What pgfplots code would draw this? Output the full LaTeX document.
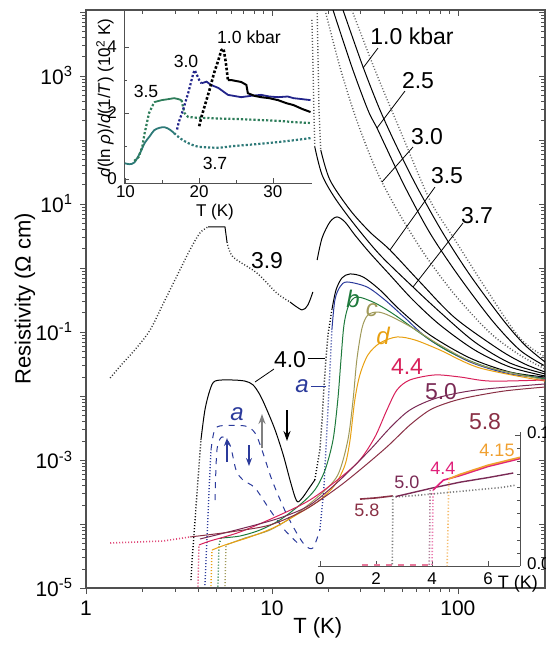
\documentclass[border=0pt]{standalone}
\usepackage{pgfplots}
\pgfplotsset{compat=1.18}
\usepackage{fontspec}
\setmainfont{Liberation Sans}
\usetikzlibrary{arrows.meta}
\definecolor{cA}{HTML}{2B3A9B}
\definecolor{cB}{HTML}{1E7A3C}
\definecolor{cC}{HTML}{A09A5A}
\definecolor{cD}{HTML}{E8A010}
\definecolor{c44}{HTML}{D8205A}
\definecolor{c50}{HTML}{7A2A55}
\definecolor{c58}{HTML}{8A3045}
\definecolor{cnavy}{HTML}{22248A}
\definecolor{cgreen}{HTML}{2E7D5A}
\definecolor{cteal}{HTML}{2E7A78}
\definecolor{cmag}{HTML}{E0207A}
\definecolor{cor}{HTML}{F0A030}
\definecolor{axgray}{HTML}{505050}
\begin{document}
\begin{tikzpicture}
\useasboundingbox (0,0) rectangle (273pt,-322.5pt);
% ---------------- main axis ----------------
\begin{axis}[at={(43pt,-294pt)}, anchor=south west, width=229.5pt, height=289pt, scale only axis,
  xmode=log, ymode=log, xmin=1, xmax=294, ymin=1e-5, ymax=1.07e4,
  xtick={1,10,100}, xticklabels={1,10,100},
  ytick={1e-5,1e-4,1e-3,1e-2,1e-1,1,10,100,1000,10000},
  yticklabels={10\textsuperscript{-5},,10\textsuperscript{-3},,10\textsuperscript{-1},,10\textsuperscript{1},,10\textsuperscript{3},},
  xtick pos=left, ytick pos=left, tick align=outside,
  major tick length=3pt, minor tick length=1.8pt,
  ticklabel style={font=\fontsize{10.5}{12}\selectfont},
  axis line style={axgray, line width=0.6pt}, tick style={axgray},
  xlabel={T (K)}, ylabel={Resistivity (Ω cm)},
  label style={font=\fontsize{11}{13}\selectfont},
  xlabel style={at={(axis description cs:0.505,-0.069)}, anchor=center},
  ylabel style={at={(axis description cs:-0.133,0.5)}, anchor=center},
  every axis plot/.append style={line width=0.5pt}]
% rightmost dotted insulating curve
\addplot[gray!80!black, densely dotted, line width=0.7pt, smooth, tension=0.5] coordinates {(26.9,10700)(35.8,1240)(48.8,143)(70.7,11.5)(96.4,2.74)(143,0.453)(215,0.0806)(294,0.0407)};
% 1.0 kbar
\addplot[black, smooth, tension=0.5] coordinates {(24.1,10700)(30.9,1380)(38.1,294)(47.0,77.6)(60.2,18.5)(83.0,3.52)(116,0.778)(175,0.154)(229,0.0626)(294,0.034)};
% 2.5
\addplot[black, smooth, tension=0.5] coordinates {(21.3,10700)(26.9,1380)(32.8,294)(36.7,154)(41.0,77.6)(51.9,18.5)(70.7,3.52)(100,0.778)(152,0.154)(215,0.0523)(294,0.0294)};
% 3.0
\addplot[gray!70!black, densely dotted, line width=0.7pt, smooth, tension=0.5] coordinates {(19.3,10700)(23.2,1380)(27.9,246)(33.6,58.3)(39.0,22.1)(48.8,6.73)(66.5,1.60)(96.4,0.379)(149,0.0965)(215,0.0437)(294,0.0264)};
% 3.5
\addplot[gray!70!black, densely dotted, line width=0.7pt] coordinates {(17.5,10700)(17.7,1780)(17.9,294)(18.3,69.8)};
\addplot[black, smooth, tension=0.5] coordinates {(18.3,69.8)(20.5,23.7)(26.3,8.05)(33.6,3.65)(43.1,1.91)(62.5,0.604)(96.4,0.166)(168,0.0523)(229,0.0316)(294,0.0237)};
% 3.7
\addplot[gray!70!black, densely dotted, line width=0.7pt] coordinates {(16.4,7500)(16.6,1780)(16.8,294)(17.0,77.6)};
\addplot[black, smooth, tension=0.5] coordinates {(17.0,77.6)(18.6,28.4)(21.8,12.4)(27.9,4.70)(38.1,1.60)(57.3,0.505)(80.0,0.205)(123,0.0698)(190,0.0328)(294,0.0221)};
% 3.9
\addplot[black!80, densely dotted, line width=0.7pt, smooth] coordinates {(1.35,0.0191)(1.58,0.0328)(1.83,0.0523)(2.21,0.107)(2.66,0.316)(3.20,0.931)(3.62,1.91)(4.10,3.52)(4.53,4.37)};
\addplot[black] coordinates {(4.53,4.37)(5.59,4.37)(5.73,2.55)};
\addplot[black!80, densely dotted, line width=0.7pt, smooth] coordinates {(5.73,2.55)(6.17,1.49)(8.30,0.835)(10.6,0.407)(12.5,0.294)};
\addplot[black, smooth] coordinates {(12.5,0.294)(14.5,0.221)(15.6,0.264)(16.6,0.422)};
\addplot[black, smooth, tension=0.5] coordinates {(17.5,1.33)(18.6,2.94)(20.5,5.23)(22.4,6.27)(24.7,5.23)(27.9,3.28)(33.6,1.72)(43.1,0.778)(57.3,0.316)(80.0,0.129)(123,0.0523)(190,0.0284)(294,0.0205)};
% 4.0
\addplot[black, densely dotted, line width=0.7pt] coordinates {(3.67,1.33e-5)(3.72,2.74e-5)(3.86,1.15e-4)(4.0,4.87e-4)(4.15,2.05e-3)};
\addplot[black, smooth, tension=0.5] coordinates {(4.15,2.05e-3)(4.36,6.04e-3)(4.64,0.0124)(4.94,0.0171)(5.95,0.0178)(7.16,0.0171)(7.91,0.0149)(8.62,0.0104)(9.40,0.00604)(10.4,0.00294)(11.5,0.00120)(12.5,4.87e-4)(13.3,2.64e-4)(13.8,2.21e-4)(14.7,2.64e-4)(15.6,3.40e-4)(17.0,4.87e-4)};
\addplot[black, densely dotted, line width=0.7pt] coordinates {(17.0,4.87e-4)(18.1,1.43e-3)(18.6,4.22e-3)(19.0,0.0124)(19.5,0.0365)(20.0,0.0898)(21.0,0.221)};
\addplot[black, smooth, tension=0.5] coordinates {(21.0,0.221)(22.1,0.453)(23.8,0.698)(26.3,0.806)(30.9,0.723)(38.1,0.453)(48.8,0.221)(70.7,0.0898)(116,0.0392)(190,0.0237)(294,0.0198)};
% a
\addplot[cA, densely dotted, line width=0.7pt] coordinates {(4.36,1.11e-5)(4.47,5.62e-5)(4.59,3.40e-4)(4.70,1.43e-3)};
\addplot[cA, dashed, smooth, tension=0.5] coordinates {(4.70,1.43e-3)(4.88,2.74e-3)(5.25,3.40e-3)(7.16,3.40e-3)(8.11,2.64e-3)(8.84,1.43e-3)(10.0,4.87e-4)(11.7,1.66e-4)(13.3,8.05e-5)(15.0,4.70e-5)(16.6,4.22e-5)(18.1,8.05e-5)};
\addplot[cA, dashed, smooth, tension=0.5] coordinates {(4.94,2.37e-4)(5.06,1.43e-3)(5.39,2.29e-3)(5.95,1.72e-3)(6.41,6.98e-4)(6.98,4.87e-4)(8.11,3.65e-4)(9.75,1.66e-4)(11.7,8.05e-5)(14.1,4.70e-5)};
\addplot[cA, densely dotted, line width=0.7pt] coordinates {(18.1,8.05e-5)(19.0,3.40e-4)(19.5,1.43e-3)(20.0,6.04e-3)(20.5,0.0255)(21.0,0.107)};
\addplot[cA, smooth, tension=0.5] coordinates {(21.0,0.107)(21.8,0.316)(23.2,0.505)(25.3,0.604)(32.4,0.505)(40.5,0.316)(51.9,0.166)(70.7,0.075)(116,0.0340)(190,0.0221)(294,0.0191)};
% b
\addplot[cB, densely dotted, line width=0.7pt] coordinates {(5.12,1.05e-5)(5.19,4.70e-5)(5.32,6.04e-5)};
\addplot[cB, smooth, tension=0.5] coordinates {(5.32,6.04e-5)(6.73,6.49e-5)(8.62,8.05e-5)(11.0,1.15e-4)(14.1,1.98e-4)(17.0,3.40e-4)(19.3,6.98e-4)(21.3,2.05e-3)(22.6,8.66e-3)(23.5,0.0365)(24.4,0.129)(25.9,0.264)(28.6,0.352)(35.8,0.284)(45.8,0.184)(62.5,0.0965)(90.6,0.0487)(149,0.0274)(294,0.0184)};
% c
\addplot[cC, densely dotted, line width=0.7pt] coordinates {(5.59,1.07e-5)(5.66,4.70e-5)};
\addplot[cC, smooth, tension=0.5] coordinates {(5.66,4.70e-5)(7.16,6.04e-5)(9.75,8.05e-5)(13.3,1.38e-4)(18.1,2.84e-4)(22.6,5.83e-4)(25.6,2.05e-3)(27.3,8.66e-3)(28.6,0.0365)(30.5,0.115)(32.8,0.184)(37.1,0.205)(43.1,0.178)(57.3,0.115)(80.0,0.0626)(131,0.0305)(294,0.0178)};
% d
\addplot[cD, densely dotted, line width=0.7pt] coordinates {(4.70,1.07e-5)(4.76,3.92e-5)};
\addplot[cD, smooth, tension=0.5] coordinates {(4.76,3.92e-5)(5.59,4.70e-5)(7.62,6.27e-5)(10.4,8.98e-5)(14.1,1.49e-4)(18.1,2.37e-4)(21.8,4.07e-4)(24.7,8.35e-4)(26.3,2.05e-3)(27.9,8.66e-3)(29.7,0.0213)(32.8,0.0437)(38.1,0.0674)(47.0,0.0835)(58.7,0.075)(80.0,0.0523)(131,0.0274)(294,0.0171)};
% 4.4
\addplot[c44, densely dotted, line width=0.7pt] coordinates {(4.0,1.05e-5)(4.05,4.70e-5)};
\addplot[c44, smooth, tension=0.5] coordinates {(4.05,4.70e-5)(4.64,5.42e-5)(6.73,7.5e-5)(11.0,1.38e-4)(16.0,2.37e-4)(23.2,5.23e-4)(29.7,1.0e-3)(35.8,2.29e-3)(41.5,6.04e-3)(47.0,0.0124)(55.2,0.0178)(75.2,0.0213)(102.5,0.0198)(149,0.0171)(294,0.0178)};
% 5.0
\addplot[c50, smooth, tension=0.5] coordinates {(4.10,5.83e-5)(6.73,8.35e-5)(11.0,1.24e-4)(16.0,1.98e-4)(23.2,4.87e-4)(33.6,1.43e-3)(43.1,3.16e-3)(55.2,6.04e-3)(77.1,9.31e-3)(126,0.0124)(294,0.0154)};
% 5.8
\addplot[c44!80, densely dotted, line width=0.8pt] coordinates {(1.35,5.05e-5)(2.59,5.42e-5)(3.62,6.27e-5)};
\addplot[c58, smooth, tension=0.5] coordinates {(3.62,6.27e-5)(5.95,7.5e-5)(9.75,9.65e-5)(15.0,1.66e-4)(22.4,3.65e-4)(29.7,6.98e-4)(41.5,1.60e-3)(55.2,3.52e-3)(70.7,6.04e-3)(90.6,8.05e-3)(116,9.65e-3)(179,0.0120)(294,0.0138)};
\end{axis}
% top / right inward ticks of main axis
\begin{axis}[at={(43pt,-294pt)}, anchor=south west, width=229.5pt, height=289pt, scale only axis,
  xmode=log, ymode=log, xmin=1, xmax=294, ymin=1e-5, ymax=1.07e4,
  xtick={1,10,100}, ytick={1e-5,1e-4,1e-3,1e-2,1e-1,1,10,100,1000,10000},
  xticklabels={}, yticklabels={}, xtick pos=right, ytick pos=right, tick align=inside,
  major tick length=3pt, minor tick length=1.8pt, tick style={axgray},
  axis line style={draw=none}]
\end{axis}
% ---------------- inset 1 ----------------
\begin{axis}[at={(62pt,-91.5pt)}, anchor=south west, width=94pt, height=86.5pt, scale only axis,
  xmin=9.8, xmax=35.3, ymin=-0.12, ymax=5.12,
  axis x line*=bottom, axis y line*=left,
  xtick={10,20,30}, minor xtick={15,25}, ytick={0,2,4}, minor ytick={1,3},
  tick align=inside, major tick length=2.5pt, minor tick length=1.5pt,
  /pgf/number format/assume math mode=true,
  ticklabel style={font=\fontsize{8.5}{10}\selectfont},
  xticklabel style={yshift=2pt},
  axis line style={axgray}, tick style={axgray},
  xlabel={T (K)}, ylabel={\textit{d}(ln \textit{ρ})/\textit{d}(1/\textit{T}) (10\textsuperscript{2} K)},
  label style={font=\fontsize{8.5}{10}\selectfont},
  xlabel style={at={(axis description cs:0.484,-0.168)}, anchor=center},
  ylabel style={at={(axis description cs:-0.101,0.491)}, anchor=center}]
% 3.7
\addplot[cteal, line width=0.9pt, smooth] coordinates {(9.9,0.48)(10.5,0.45)(11.2,0.5)(12.0,0.8)(12.6,1.09)(13.3,1.3)(13.9,1.48)(14.6,1.55)(15.3,1.57)(16.0,1.5)(16.6,1.39)};
\addplot[cteal, densely dotted, line width=1.1pt, smooth] coordinates {(16.6,1.39)(17.5,1.22)(18.5,1.09)(19.5,1.0)(20.3,0.97)(22.6,0.95)(24.7,1.0)(27.4,1.05)(30.7,1.12)(33,1.18)(35.1,1.24)};
% 3.5
\addplot[cgreen, densely dotted, line width=1.1pt] coordinates {(11.2,0.55)(11.8,0.67)(12.3,1.0)(12.6,1.39)(13.2,2.0)(13.9,2.33)};
\addplot[cgreen, line width=0.9pt] coordinates {(13.9,2.33)(14.9,2.39)(15.8,2.42)(16.6,2.45)(17.2,2.42)(17.6,2.39)};
\addplot[cgreen, densely dotted, line width=1.1pt] coordinates {(17.6,2.39)(18.0,2.0)(18.5,1.88)(19.5,1.86)(21,1.85)(23,1.83)(25,1.82)(27,1.8)(29,1.78)(31,1.76)(33,1.72)(35,1.7)};
% 3.0
\addplot[cnavy, densely dotted, line width=1.1pt] coordinates {(17.0,1.5)(17.2,1.7)(17.8,2.09)(18.5,2.6)(19.2,3.2)(19.4,3.3)(20.0,3.0)(20.3,2.9)};
\addplot[cnavy, line width=0.9pt] coordinates {(20.3,2.9)(21.0,2.95)(21.6,2.85)(22.6,2.76)(23.9,2.55)(25.7,2.48)(27,2.52)(28.4,2.55)(29.5,2.5)(30.7,2.48)(32,2.5)(32.8,2.45)(34,2.42)(35.1,2.39)};
% 1.0 kbar
\addplot[black, densely dotted, line width=1.3pt] coordinates {(20.0,1.6)(20.3,1.88)(20.7,2.18)(21.4,2.7)(22.0,3.2)(22.6,3.6)(23.0,3.9)(23.3,3.95)(23.6,3.55)(23.9,3.0)};
\addplot[black, line width=1pt] coordinates {(23.9,3.0)(24.3,3.0)(25.0,2.97)(25.7,2.94)(26.4,2.85)(26.6,2.6)(27.5,2.52)(28.4,2.48)(29.5,2.45)(30.7,2.39)(31.8,2.3)(32.8,2.24)(34,2.12)(35.1,2.03)};
\end{axis}
% ---------------- inset 2 ----------------
\begin{axis}[at={(159pt,-283pt)}, anchor=south west, width=101pt, height=67pt, scale only axis,
  xmin=-0.07, xmax=7.14, ymin=0, ymax=0.1023,
  axis x line*=bottom, axis y line*=right,
  xtick={0,2,4,6}, xticklabels={0,2,4,6}, ytick={0,0.1}, yticklabels={0.0,0.1},
  minor ytick={0.01,0.02,0.03,0.04,0.05,0.06,0.07,0.08,0.09},
  tick align=inside, major tick length=2.5pt, minor tick length=1.5pt,
  ticklabel style={font=\fontsize{8.5}{10}\selectfont},
  yticklabel style={yshift=1pt},
  axis line style={axgray}, tick style={axgray},
  xlabel={T (K)}, label style={font=\fontsize{9}{10}\selectfont},
  xlabel style={at={(axis description cs:0.99,-0.135)}, anchor=center},
  every axis plot/.append style={line width=0.6pt}]
\addplot[c44!60, dashed, line width=1pt] coordinates {(1.5,0.0008)(4.0,0.0008)};
% 5.8
\addplot[c58, line width=0.8pt] coordinates {(1.43,0.0511)(2.0,0.052)(2.6,0.0535)};
\addplot[gray, densely dotted, line width=0.8pt] coordinates {(2.6,0.0535)(2.6,0.04)(2.59,0.02)(2.58,0.0)};
\addplot[gray, densely dotted, line width=0.8pt] coordinates {(2.7,0.0527)(3.5,0.054)(4.5,0.056)(5.5,0.058)(6.5,0.060)(7.0,0.0618)};
% 5.0
\addplot[c50, line width=0.7pt] coordinates {(2.7,0.053)(3.5,0.057)(4.0,0.0595)(5.0,0.064)(6.0,0.0675)(6.9,0.071)};
\addplot[c50!60, densely dotted, line width=0.8pt] coordinates {(3.93,0.058)(3.92,0.03)(3.9,0.0)};
% 4.4
\addplot[cmag, line width=0.8pt] coordinates {(4.04,0.058)(4.4,0.0655)(5.0,0.069)(6.0,0.076)(7.14,0.082)};
\addplot[cmag!60, densely dotted, line width=0.8pt] coordinates {(4.04,0.058)(4.02,0.03)(4.0,0.0)};
% 4.15
\addplot[cor, line width=0.8pt] coordinates {(4.6,0.0665)(5.0,0.07)(6.0,0.077)(7.14,0.083)};
\addplot[cor!70, densely dotted, line width=0.8pt] coordinates {(4.6,0.0665)(4.57,0.03)(4.54,0.0)};
\end{axis}
% ---------------- annotations (pixel frame) ----------------
\begin{scope}[x=0.5pt, y=-0.5pt, font=\fontsize{11.5}{13}\selectfont]
\node at (412,36) {1.0 kbar};
\draw[thin] (378,48) -- (363,68);
\node at (418,81) {2.5};
\draw[thin] (405,91) -- (377,128);
\node at (427,137) {3.0};
\draw[thin] (413,147) -- (382,182);
\node at (447,176) {3.5};
\draw[thin] (435,187) -- (390,250);
\node at (477,216) {3.7};
\draw[thin] (463,223) -- (413,287);
\node at (267,261) {3.9};
\node at (290,360) {4.0};
\draw[thin] (274,369) -- (255,382);
\draw[thin] (308,358) -- (325,358);
\node[cA, font=\fontsize{12}{14}\selectfont\itshape] at (302,386) {a};
\draw[cA, thin] (311,386) -- (326,386);
\node[cA, font=\fontsize{12}{14}\selectfont\itshape] at (237,414) {a};
\node[cB, font=\fontsize{12}{14}\selectfont\itshape] at (353,299) {b};
\node[cC, font=\fontsize{12}{14}\selectfont\itshape] at (372,310) {c};
\node[cD, font=\fontsize{12}{14}\selectfont\itshape] at (383,336) {d};
\node[c44] at (407,367) {4.4};
\node[c50] at (441,392) {5.0};
\node[c58] at (485,422) {5.8};
\draw[gray, line width=0.8pt, -{Stealth[length=5pt,width=3.5pt]}] (262,448) -- (262,414);
\draw[black, line width=0.7pt, -{Stealth[length=5pt,width=3.5pt]}] (287,410) -- (287,441);
\draw[cA, line width=0.7pt, -{Stealth[length=4pt,width=3pt]}] (227,462) -- (227,438);
\draw[cA, line width=0.7pt, -{Stealth[length=4pt,width=3pt]}] (249,445) -- (249,466);
% inset 1 labels
\begin{scope}[font=\fontsize{8.8}{10}\selectfont]
\node at (249,37) {1.0 kbar};
\node at (186,61) {3.0};
\node at (146,91) {3.5};
\node at (215,163) {3.7};
\end{scope}
% inset 2 labels
\begin{scope}[font=\fontsize{9}{10}\selectfont]
\node[c58] at (367,510) {5.8};
\node[c50] at (407,482) {5.0};
\node[cmag] at (443,468) {4.4};
\node[cor] at (497,450) {4.15};
\end{scope}
\end{scope}
\end{tikzpicture}
\end{document}
